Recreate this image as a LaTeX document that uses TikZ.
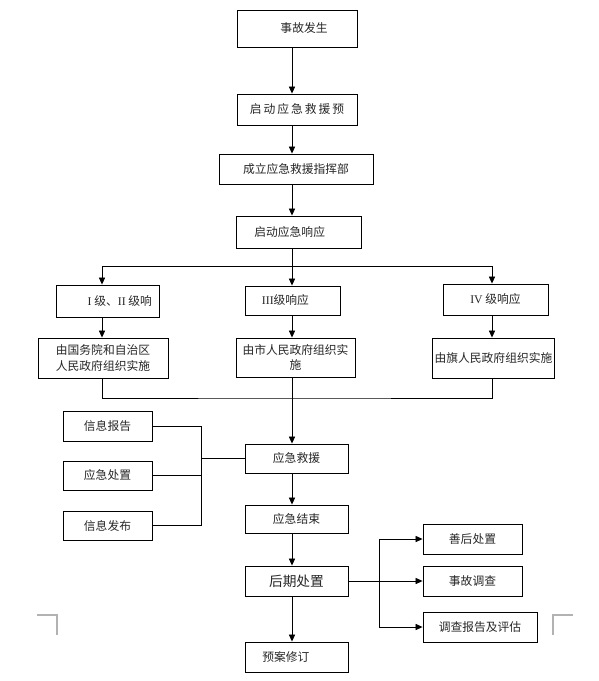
\documentclass[tikz,border=0pt]{standalone}
\usepackage{fontspec}
\setmainfont{Noto Sans CJK SC}
\newfontfamily\romano{Liberation Serif}
\usetikzlibrary{arrows.meta}

\begin{document}
\begin{tikzpicture}[x=0.02cm,y=-0.02cm,
		box/.style={draw,line width=0.5pt,inner sep=1pt,align=center,text=black!85,font=\fontsize{6.7}{9}\selectfont},
		freccia/.style={-{Triangle[length=4pt,width=3.5pt]},line width=0.5pt},
		linea/.style={line width=0.5pt}]
		\useasboundingbox (0,0) rectangle (599,681); % Margini della pagina
		
		% Assi verticali
		\coordinate (asse) at (292,0);
		\coordinate (colA) at (102,0);
		\coordinate (colC) at (492,0);
		
		% Colonna centrale
		\node[box,minimum width=2.4cm,minimum height=0.74cm] (evento) at (297,28.5) {\hspace{8pt}事故发生};
		\node[box,minimum width=2.4cm,minimum height=0.62cm] (avvio) at (297,109.5) {启\,动\,应\,急\,救\,援\,预};
		\node[box,minimum width=3.08cm,minimum height=0.6cm] (comando) at (296,169) {成立应急救援指挥部};
		\node[box,minimum width=2.5cm,minimum height=0.64cm] (risposta) at (298.5,232) {启动应急响应\hspace{10pt}};
		
		% Livelli di risposta
		\node[box,minimum width=2.06cm,minimum height=0.64cm] (liv1) at (107.5,301) {\hspace{14pt}{\romano I} 级、{\romano II} 级响};
		\node[box,minimum width=1.9cm,minimum height=0.58cm] (liv3) at (292.5,300.5) {{\romano III}级响应\hspace{8pt}};
		\node[box,minimum width=2.1cm,minimum height=0.62cm] (liv4) at (495.5,299.5) {{\romano IV} 级响应};
		
		% Enti che attuano
		\node[box,minimum width=2.6cm,minimum height=0.8cm] (impl1) at (103,358) {由国务院和自治区\\人民政府组织实施};
		\node[box,minimum width=2.38cm,minimum height=0.78cm] (impl2) at (295.5,357.5) {由市人民政府组织实\\施};
		\node[box,minimum width=2.38cm,minimum height=0.8cm] (impl3) at (493.5,358) {由旗人民政府组织实施};
		
		% Soccorso e fine
		\node[box,minimum width=2.06cm,minimum height=0.58cm] (soccorso) at (296.5,458.5) {应急救援};
		\node[box,minimum width=2.06cm,minimum height=0.56cm] (fine) at (296.5,519) {应急结束};
		
		% Blocchi a sinistra
		\node[box,minimum width=1.78cm,minimum height=0.6cm] (rapporto) at (107.5,426) {信息报告};
		\node[box,minimum width=1.78cm,minimum height=0.58cm] (gestione) at (107.5,475.5) {应急处置};
		\node[box,minimum width=1.78cm,minimum height=0.58cm] (pubblica) at (107.5,525.5) {信息发布};
		
		% Fase finale
		\node[box,minimum width=2.06cm,minimum height=0.6cm,font=\fontsize{7.8}{9}\selectfont] (dopo) at (296.5,581) {后期处置};
		\node[box,minimum width=2.06cm,minimum height=0.6cm] (revisione) at (296.5,657) {预案修订\hspace{12pt}};
		
		% Blocchi a destra
		\node[box,minimum width=1.98cm,minimum height=0.6cm] (ricostr) at (472.5,539) {善后处置};
		\node[box,minimum width=1.98cm,minimum height=0.6cm] (indagine) at (472.5,581) {事故调查};
		\node[box,minimum width=2.28cm,minimum height=0.6cm] (valuta) at (480,627) {调查报告及评估};
		
		% Frecce della colonna centrale
		\draw[freccia] (evento.south -| asse) -- (avvio.north -| asse);
		\draw[freccia] (avvio.south -| asse) -- (comando.north -| asse);
		\draw[freccia] (comando.south -| asse) -- (risposta.north -| asse);
		
		% Diramazione ai livelli
		\coordinate (ramo) at (292,266);
		\draw[linea] (risposta.south -| asse) -- (ramo);
		\draw[freccia] (ramo) -| (liv1.north -| colA);
		\draw[freccia] (ramo) -| (liv4.north -| colC);
		\draw[freccia] (ramo) -- (liv3.north -| asse);
		\draw[freccia] (liv1.south -| colA) -- (impl1.north -| colA);
		\draw[freccia] (liv3.south -| asse) -- (impl2.north -| asse);
		\draw[freccia] (liv4.south -| colC) -- (impl3.north -| colC);
		
		% Unione verso il soccorso
		\coordinate (unione) at (292,398);
		\draw[linea] (impl1.south -| colA) |- (unione) -| (impl3.south -| colC);
		\draw[linea] (impl2.south -| asse) -- (unione);
		\draw[freccia] (unione) -- (soccorso.north -| asse);
		\draw[freccia] (soccorso.south -| asse) -- (fine.north -| asse);
		\draw[freccia] (fine.south -| asse) -- (dopo.north -| asse);
		\draw[freccia] (dopo.south -| asse) -- (revisione.north -| asse);
		
		% Collegamento a sinistra
		\coordinate (bus) at (201,458.5);
		\draw[linea] (rapporto.east) -| (bus) -- (soccorso.west);
		\draw[linea] (pubblica.east) -| (bus);
		\draw[linea] (gestione.east) -- (gestione.east -| bus);
		
		% Collegamento a destra
		\coordinate (bus2) at (379,581);
		\draw[linea] (dopo.east) -- (bus2);
		\draw[freccia] (bus2) -- (indagine.west);
		\draw[freccia] (bus2) |- (ricostr.west);
		\draw[freccia] (bus2) |- (valuta.west);
		
		% Segni di taglio
		\draw[gray!60,line width=0.6pt] (37,615) -- (57,615) -- (57,635);
		\draw[gray!60,line width=0.6pt] (573,615) -- (553,615) -- (553,635);
	\end{tikzpicture}
\end{document}
